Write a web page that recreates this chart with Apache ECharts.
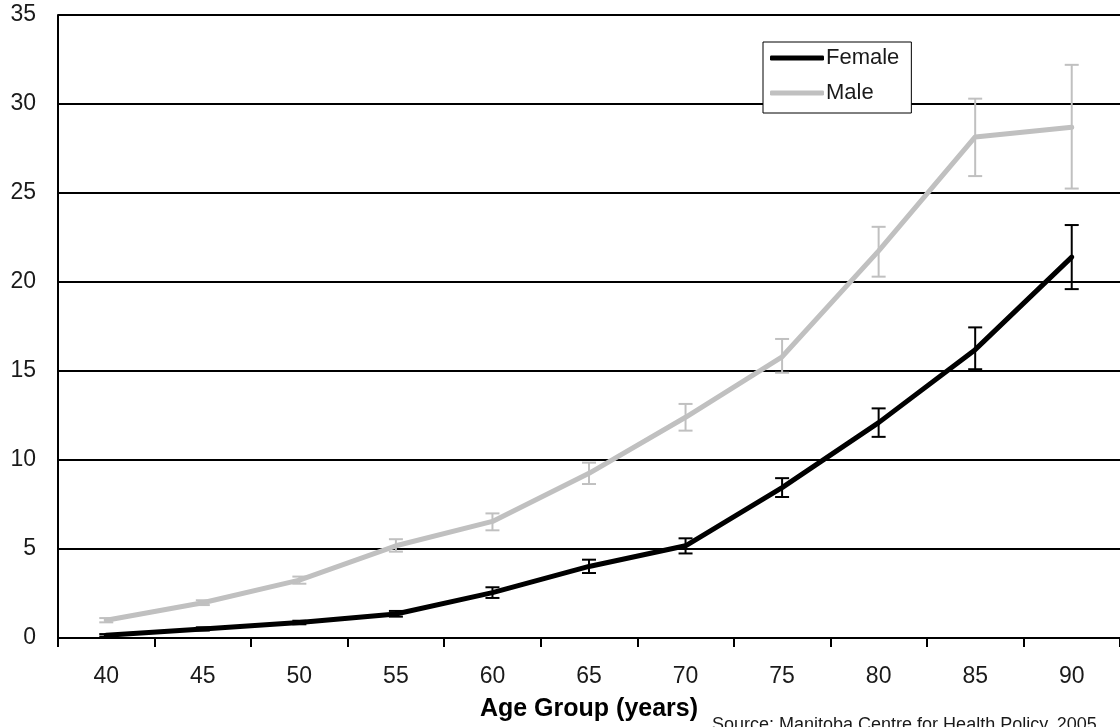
<!DOCTYPE html>
<html>
<head>
<meta charset="utf-8">
<script src="https://cdn.jsdelivr.net/npm/echarts@6/dist/echarts.min.js"></script>
<style>
html,body{margin:0;padding:0;background:#fff;}
#c{width:1120px;height:727px;}
</style>
</head>
<body>
<div id="c"></div>
<script>
const categories = ['40','45','50','55','60','65','70','75','80','85','90'];
const femaleValues = [0.15, 0.5, 0.87, 1.35, 2.55, 4.02, 5.18, 8.45, 12.1, 16.2, 21.4];
const femaleLow    = [0.08, 0.42, 0.77, 1.2, 2.25, 3.65, 4.75, 7.92, 11.3, 15.1, 19.6];
const femaleHigh   = [0.22, 0.6, 0.97, 1.52, 2.85, 4.4, 5.6, 8.98, 12.9, 17.45, 23.2];
const maleValues = [1.0, 1.98, 3.25, 5.18, 6.55, 9.25, 12.4, 15.8, 21.75, 28.15, 28.7];
const maleLow    = [0.88, 1.85, 3.05, 4.85, 6.05, 8.65, 11.65, 14.9, 20.3, 25.95, 25.25];
const maleHigh   = [1.12, 2.12, 3.45, 5.55, 7.0, 9.85, 13.15, 16.8, 23.1, 30.3, 32.2];
const yTicks = [0, 5, 10, 15, 20, 25, 30, 35];
const xTitle = 'Age Group (years)';
const sourceText = 'Source: Manitoba Centre for Health Policy, 2005';

const FONT = '"Liberation Sans", Arial, Helvetica, sans-serif';
const BLACK = '#000000';
const GREY = '#c0c0c0';

function errData(lo, hi) {
  return categories.map((c, i) => [i, lo[i], hi[i]]);
}
function errRender(color, width) {
  return function (params, api) {
    const x = api.value(0);
    const lo = api.coord([x, api.value(1)]);
    const hi = api.coord([x, api.value(2)]);
    const hw = 7;
    const style = { stroke: color, lineWidth: width, fill: null };
    return {
      type: 'group',
      children: [
        { type: 'line', shape: { x1: lo[0], y1: lo[1], x2: hi[0], y2: hi[1] }, style: style },
        { type: 'line', shape: { x1: lo[0] - hw, y1: lo[1], x2: lo[0] + hw, y2: lo[1] }, style: style },
        { type: 'line', shape: { x1: hi[0] - hw, y1: hi[1], x2: hi[0] + hw, y2: hi[1] }, style: style }
      ]
    };
  };
}

const chart = echarts.init(document.getElementById('c'), null, { renderer: 'canvas' });
chart.setOption({
  animation: false,
  backgroundColor: '#ffffff',
  textStyle: { fontFamily: FONT },
  grid: { left: 58, top: 15, right: -3, bottom: 86.5, containLabel: false },
  legend: {
    orient: 'vertical',
    left: 763,
    top: 42,
    padding: [5, 12, 9, 7],
    itemGap: 13,
    itemWidth: 54,
    itemHeight: 5,
    backgroundColor: '#ffffff',
    borderColor: '#000000',
    borderWidth: 1,
    borderRadius: 0,
    textStyle: { fontSize: 22, color: '#1a1a1a', fontFamily: FONT, padding: [0, 0, 0, -3] },
    data: [
      { name: 'Female', icon: 'roundRect', itemStyle: { color: BLACK } },
      { name: 'Male', icon: 'roundRect', itemStyle: { color: GREY } }
    ]
  },
  xAxis: {
    type: 'category',
    data: categories,
    boundaryGap: true,
    name: xTitle,
    nameLocation: 'middle',
    nameGap: 59,
    nameTextStyle: { fontSize: 25, fontWeight: 'bold', color: '#000', fontFamily: FONT },
    axisLine: { show: true, lineStyle: { color: '#000', width: 2 } },
    axisTick: { show: true, length: 9, lineStyle: { color: '#000', width: 2 } },
    axisLabel: { fontSize: 23, color: '#1a1a1a', margin: 27, fontFamily: FONT },
    splitLine: { show: false }
  },
  yAxis: {
    type: 'value',
    min: 0,
    max: 35,
    interval: 5,
    axisLine: { show: true, lineStyle: { color: '#000', width: 2 } },
    axisTick: { show: false },
    axisLabel: {
      fontSize: 23, color: '#1a1a1a', margin: 22, fontFamily: FONT,
      formatter: function (v) { return yTicks.indexOf(v) >= 0 ? String(v) : ''; }
    },
    splitLine: { show: true, lineStyle: { color: '#000', width: 2 } }
  },
  series: [
    {
      name: 'Male', type: 'line', data: maleValues, symbol: 'none',
      lineStyle: { color: GREY, width: 5, cap: 'round', join: 'round' },
      itemStyle: { color: GREY }, z: 3
    },
    {
      name: 'Male err', type: 'custom', data: errData(maleLow, maleHigh),
      encode: { x: 0, y: [1, 2] }, renderItem: errRender(GREY, 2), z: 4, silent: true
    },
    {
      name: 'Female', type: 'line', data: femaleValues, symbol: 'none',
      lineStyle: { color: BLACK, width: 5, cap: 'round', join: 'round' },
      itemStyle: { color: BLACK }, z: 5
    },
    {
      name: 'Female err', type: 'custom', data: errData(femaleLow, femaleHigh),
      encode: { x: 0, y: [1, 2] }, renderItem: errRender(BLACK, 2), z: 6, silent: true
    }
  ],
  graphic: [
    {
      type: 'text', left: 712, top: 716, z: 10,
      style: { text: sourceText, fontSize: 18, fill: '#1a1a1a', fontFamily: FONT }
    }
  ]
});
</script>
</body>
</html>
